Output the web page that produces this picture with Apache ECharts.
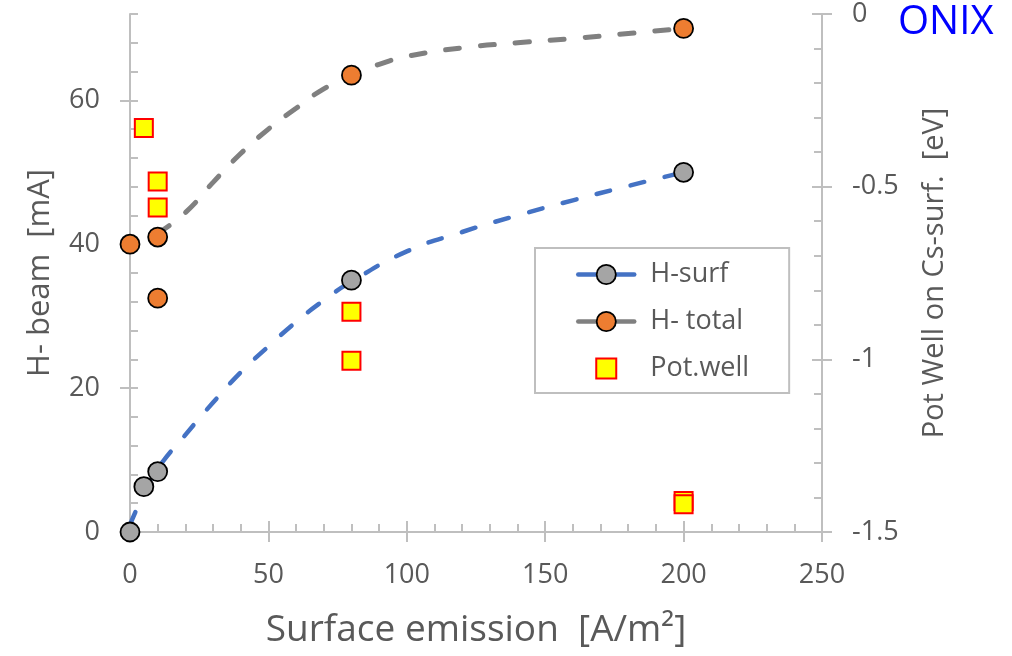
<!DOCTYPE html>
<html>
<head>
<meta charset="utf-8">
<script src="https://cdn.jsdelivr.net/npm/echarts@6/dist/echarts.min.js"></script>
<style>
  html, body { margin: 0; padding: 0; background: #ffffff; }
  #chart { width: 1012px; height: 656px; }
</style>
</head>
<body>
<div id="chart"></div>
<script>
// H- beam current vs. surface emission (left axis) and the Cs-surface potential well (right axis)
const hSurfX = [0, 5, 10, 80, 200];
const hSurfY = [0, 6.3, 8.4, 35, 50];
const hTotalX = [0, 10, 10, 80, 200];
const hTotalY = [40, 41, 32.5, 63.5, 70];
const potWellX = [5, 10, 10, 80, 80, 200, 200];
const potWellY = [-0.33, -0.485, -0.56, -0.862, -1.004, -1.41, -1.42];

// dashed trend curves through the beam data
const hSurfTrendX = [0, 5, 10, 20, 30, 40, 50, 60, 70, 80, 100, 120, 140, 160, 180, 200];
const hSurfTrendY = [1, 5.3, 8.8, 13.5, 18, 22.2, 25.8, 29.2, 32.2, 34.8, 39, 41.7, 44, 46.1, 48.1, 50];
const hTotalTrendX = [10, 20, 30, 40, 50, 60, 70, 80, 90, 100, 120, 140, 160, 180, 200];
const hTotalTrendY = [41.5, 44.4, 48.6, 52.6, 56, 58.9, 61.6, 63.5, 65, 66.1, 67.3, 68, 68.6, 69.3, 70];

// tick labels
const xTicks = [0, 50, 100, 150, 200, 250];
const beamTicks = [0, 20, 40, 60];
const wellTicks = [-1.5, -1, -0.5, 0];
const seriesNames = ['H-surf', 'H- total', 'Pot.well'];

const pts = (xs, ys) => xs.map((x, i) => [x, ys[i]]);

const FONT = '"Open Sans", "Noto Sans", sans-serif';
const TEXT = '#595959';
const AXIS = '#bfbfbf';
const tickLine = { color: AXIS, width: 2 };
const noSplit = { show: false };

const chart = echarts.init(document.getElementById('chart'), null, { renderer: 'canvas' });

chart.setOption({
  backgroundColor: '#ffffff',
  animation: false,
  textStyle: { fontFamily: FONT },
  grid: { left: 130, right: 190, top: 14, bottom: 124, containLabel: false, outerBoundsMode: 'none' },
  legend: {
    orient: 'vertical',
    left: 535,
    top: 248,
    padding: [13, 40, 11, 41],
    itemGap: 20,
    itemWidth: 56,
    itemHeight: 24,
    borderColor: AXIS,
    borderWidth: 2,
    backgroundColor: '#ffffff',
    formatter: '{t|{name}}',
    textStyle: {
      fontFamily: FONT, fontSize: 27, color: TEXT,
      rich: { t: { fontFamily: FONT, fontSize: 27, color: TEXT, padding: [0, 0, 0, 11] } }
    },
    data: [
      { name: seriesNames[0],
        itemStyle: { color: '#a5a5a5', borderColor: '#000000', borderWidth: 1.8 },
        lineStyle: { color: '#4472c4', width: 4.5, type: 'solid' } },
      { name: seriesNames[1],
        itemStyle: { color: '#ed7d31', borderColor: '#000000', borderWidth: 1.8 },
        lineStyle: { color: '#808080', width: 4.5, type: 'solid' } },
      { name: seriesNames[2], icon: 'path://M0 0M24 24M2 2H22V22H2Z',
        itemStyle: { color: '#ffff00', borderColor: '#ff0000', borderWidth: 2 } }
    ]
  },
  xAxis: [
    {
      type: 'value', position: 'bottom', min: 0, max: 250, interval: 50,
      axisLine: { show: true, onZero: false, lineStyle: { color: AXIS, width: 2 } },
      axisTick: { show: true, inside: false, length: 10, lineStyle: tickLine },
      axisLabel: { show: true, customValues: xTicks, margin: 30, fontFamily: FONT, fontSize: 27, color: TEXT },
      splitLine: noSplit,
      name: 'Surface emission  [A/m\u00B2]', nameLocation: 'middle', nameGap: 80,
      nameTextStyle: { fontFamily: FONT, fontSize: 37, color: TEXT }
    },
    {
      type: 'value', position: 'bottom', min: 0, max: 250, interval: 50,
      axisLine: { show: false, onZero: false },
      axisTick: { show: true, inside: true, length: 11, lineStyle: tickLine },
      minorTick: { show: true, splitNumber: 5, length: 8, lineStyle: tickLine },
      axisLabel: { show: false },
      splitLine: noSplit, minorSplitLine: noSplit
    }
  ],
  yAxis: [
    {
      type: 'value', position: 'left', min: 0, max: 72,
      axisLine: { show: true, onZero: false, lineStyle: { color: AXIS, width: 2 } },
      axisTick: { show: true, inside: false, length: 10, customValues: beamTicks, lineStyle: tickLine },
      axisLabel: { show: true, customValues: beamTicks, margin: 30, fontFamily: FONT, fontSize: 27, color: TEXT },
      splitLine: noSplit,
      name: 'H- beam  [mA]', nameLocation: 'middle', nameGap: 74, nameRotate: 90,
      nameTextStyle: { fontFamily: FONT, fontSize: 31, color: TEXT }
    },
    {
      type: 'value', position: 'left', min: 0, max: 72, interval: 4,
      axisLine: { show: false, onZero: false },
      axisTick: { show: true, inside: true, length: 8, lineStyle: tickLine },
      axisLabel: { show: false },
      splitLine: noSplit
    },
    {
      type: 'value', position: 'right', min: -1.5, max: 0, interval: 0.5,
      axisLine: { show: true, onZero: false, lineStyle: { color: AXIS, width: 2 } },
      axisTick: { show: true, inside: false, length: 10, lineStyle: tickLine },
      axisLabel: { show: true, customValues: wellTicks, margin: 30, fontFamily: FONT, fontSize: 27, color: TEXT },
      splitLine: noSplit,
      name: 'Pot Well on Cs-surf.  [eV]', nameLocation: 'middle', nameGap: 98, nameRotate: 90,
      nameTextStyle: { fontFamily: FONT, fontSize: 29, color: TEXT }
    },
    {
      type: 'value', position: 'right', min: -1.5, max: 0, interval: 0.5,
      axisLine: { show: false, onZero: false },
      axisTick: { show: true, inside: true, length: 10, lineStyle: tickLine },
      minorTick: { show: true, splitNumber: 5, length: 8, lineStyle: tickLine },
      axisLabel: { show: false },
      splitLine: noSplit, minorSplitLine: noSplit
    }
  ],
  graphic: [
    {
      type: 'text', x: 898, y: 23, silent: true,
      style: { text: 'ONIX', fill: '#0000ff', fontFamily: FONT, fontSize: 40, align: 'left', verticalAlign: 'middle' }
    }
  ],
  series: [
    {
      name: seriesNames[0], type: 'line', xAxisIndex: 0, yAxisIndex: 0,
      data: pts(hSurfTrendX, hSurfTrendY),
      smooth: 0.5, showSymbol: false, symbol: 'circle', silent: true, z: 2,
      lineStyle: { color: '#4472c4', width: 4.5, type: [14, 21], cap: 'round' },
      itemStyle: { color: '#a5a5a5' }
    },
    {
      name: seriesNames[1], type: 'line', xAxisIndex: 0, yAxisIndex: 0,
      data: pts(hTotalTrendX, hTotalTrendY),
      smooth: 0.5, showSymbol: false, symbol: 'circle', silent: true, z: 2,
      lineStyle: { color: '#808080', width: 5, type: [14, 21], cap: 'round' },
      itemStyle: { color: '#ed7d31' }
    },
    {
      name: seriesNames[0], type: 'scatter', xAxisIndex: 0, yAxisIndex: 0, z: 3,
      data: pts(hSurfX, hSurfY), symbol: 'circle', symbolSize: 19,
      itemStyle: { color: '#a5a5a5', borderColor: '#000000', borderWidth: 1.8, opacity: 1 }
    },
    {
      name: seriesNames[1], type: 'scatter', xAxisIndex: 0, yAxisIndex: 0, z: 3,
      data: pts(hTotalX, hTotalY), symbol: 'circle', symbolSize: 19,
      itemStyle: { color: '#ed7d31', borderColor: '#000000', borderWidth: 1.8, opacity: 1 }
    },
    {
      name: seriesNames[2], type: 'scatter', xAxisIndex: 0, yAxisIndex: 2, z: 4,
      data: pts(potWellX, potWellY), symbol: 'rect', symbolSize: 18,
      itemStyle: { color: '#ffff00', borderColor: '#ff0000', borderWidth: 2, opacity: 1 }
    }
  ]
});
</script>
</body>
</html>
